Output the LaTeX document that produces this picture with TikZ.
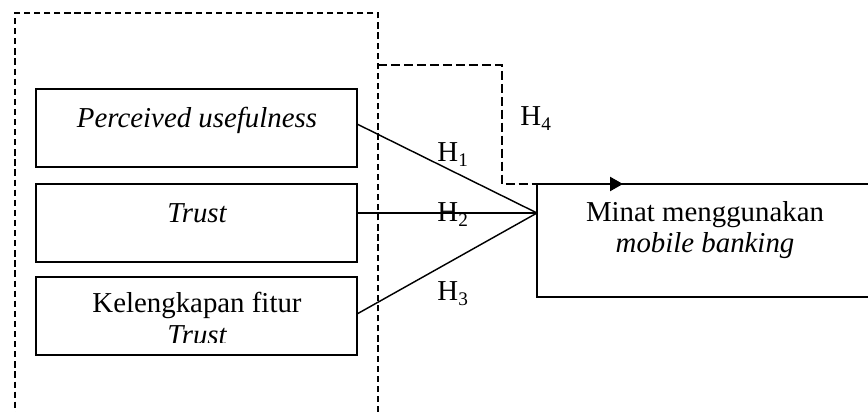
\documentclass[tikz,border=0pt]{standalone}
\usepackage{fontspec}
\setmainfont{Liberation Serif}
\usetikzlibrary{arrows.meta}
\def\pxu{0.416pt}
\begin{document}
\begin{tikzpicture}[x=0.416pt, y=-0.416pt,
  txt/.style={font=\fontsize{12}{13.5}\selectfont, inner sep=0pt, anchor=base},
  box/.style={draw, line width=0.75pt, inner sep=0pt, outer sep=0pt, anchor=north west},
  groupframe/.style={draw, dash pattern=on 2.6pt off 1.6pt, line width=0.8pt, inner sep=0pt, outer sep=0pt, anchor=north west},
  link/.style={line width=0.6pt},
  moderate/.style={dash pattern=on 3.8pt off 1.6pt, line width=1.05pt, -{Triangle[length=5.4pt,width=5.8pt]}}
]
\clip (0,0) rectangle (868,412);

% dashed frame around the independent variables
\node[groupframe, minimum width=363*\pxu, minimum height=430*\pxu] (grp) at (15,13) {};

% independent variable boxes
\node[box, minimum width=321*\pxu, minimum height=78*\pxu] (pu) at (36,89) {};
\node[box, minimum width=321*\pxu, minimum height=78*\pxu] (tr) at (36,184) {};
\node[box, minimum width=321*\pxu, minimum height=78*\pxu] (kf) at (36,277) {};

\node[txt] (tpu) at (197,128) {\itshape Perceived usefulness};
\node[txt] (ttr) at (197,223) {\itshape Trust};
\node[txt] (tkf) at (197,313) {Kelengkapan fitur};
\begin{scope}
  \clip (36,277) rectangle (357,343);
  \node[txt] (tkf2) at (197,345) {\itshape Trust};
\end{scope}

% dependent variable box
\node[box, minimum width=363*\pxu, minimum height=113*\pxu] (out) at (537,184) {};
\node[txt] (tout) at (705,222) {Minat menggunakan};
\node[txt] (tout2) at (705,253) {\itshape mobile banking};

% paths H1-H3
\coordinate (meet) at (537,213);
\draw[link] (pu.east |- 0,124) -- (meet);
\draw[link] (tr.east |- 0,213) -- (meet);
\draw[link] (kf.east |- 0,314) -- (meet);

\node[txt, anchor=base west] (h1) at (437,162) {H\textsubscript{1}};
\node[txt, anchor=base west] (h2) at (437,222) {H\textsubscript{2}};
\node[txt, anchor=base west] (h3) at (437,301) {H\textsubscript{3}};

% path H4 from the frame to the dependent variable
\coordinate (h4s) at (378,65);
\coordinate (h4c) at (502,184);
\coordinate (h4t) at (623,184);
\draw[moderate] (h4s) -| (h4c) -- (h4t);
\node[txt, anchor=base west] (h4) at (520,126) {H\textsubscript{4}};
\end{tikzpicture}
\end{document}
